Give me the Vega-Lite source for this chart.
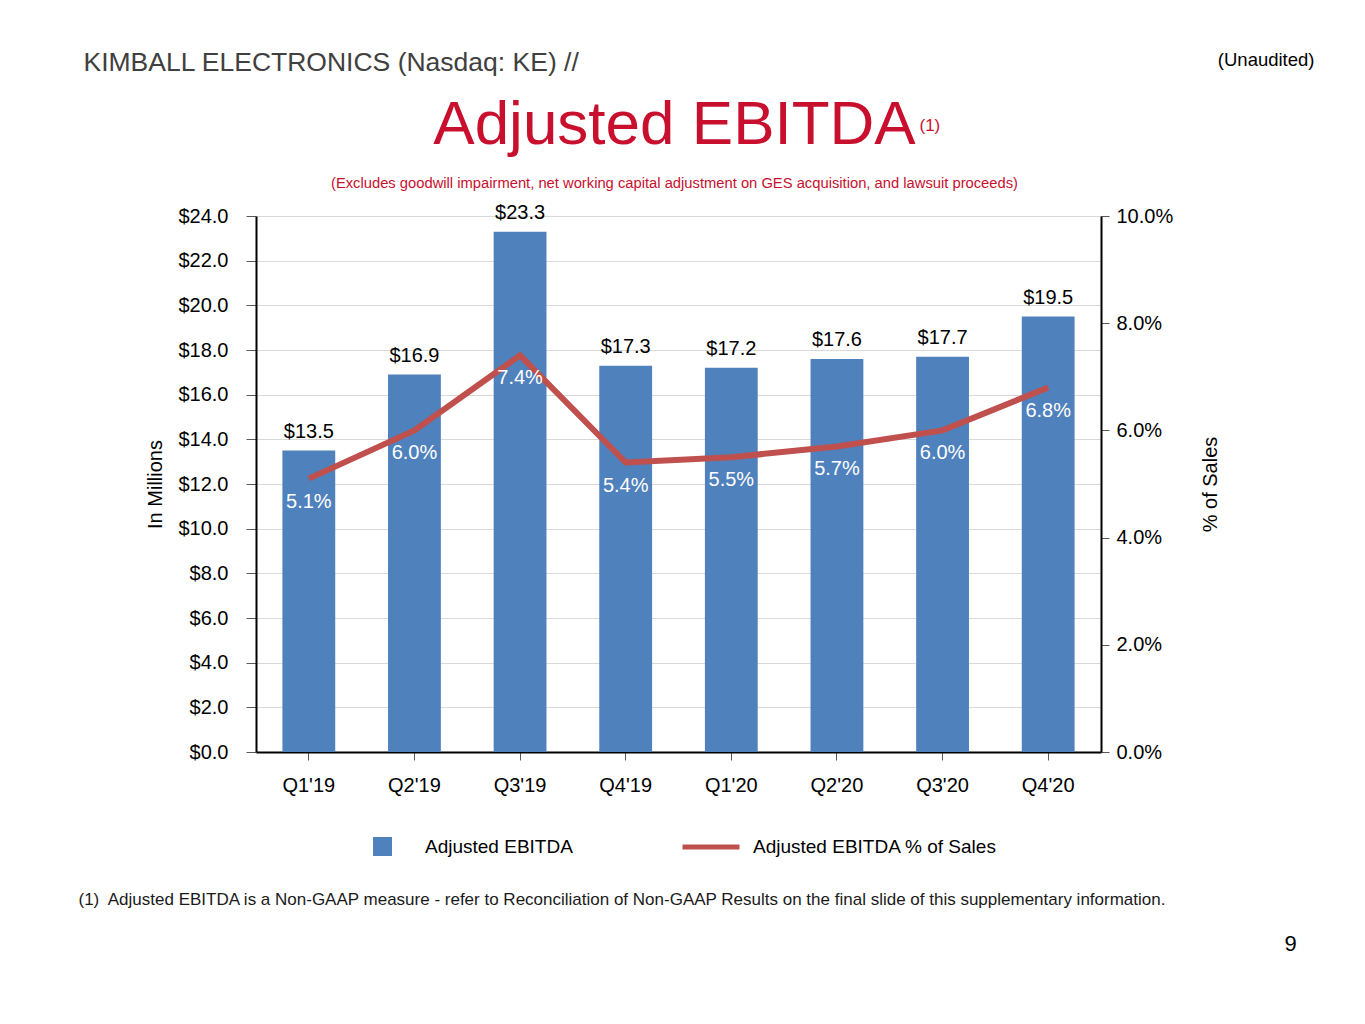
{
  "$schema": "https://vega.github.io/schema/vega-lite/v6.json",
  "width": 845,
  "height": 536,
  "autosize": {"type": "none"},
  "padding": {"left": 256, "top": 216, "right": 264, "bottom": 272},
  "background": "white",
  "data": {
    "values": [
      {"quarter": "Q1'19", "ebitda": 13.5, "pct": 0.051},
      {"quarter": "Q2'19", "ebitda": 16.9, "pct": 0.060},
      {"quarter": "Q3'19", "ebitda": 23.3, "pct": 0.074},
      {"quarter": "Q4'19", "ebitda": 17.3, "pct": 0.054},
      {"quarter": "Q1'20", "ebitda": 17.2, "pct": 0.055},
      {"quarter": "Q2'20", "ebitda": 17.6, "pct": 0.057},
      {"quarter": "Q3'20", "ebitda": 17.7, "pct": 0.060},
      {"quarter": "Q4'20", "ebitda": 19.5, "pct": 0.068}
    ]
  },
  "title": {
    "text": "Adjusted EBITDA",
    "subtitle": "(Excludes goodwill impairment, net working capital adjustment on GES acquisition, and lawsuit proceeds)",
    "anchor": "middle",
    "frame": "group",
    "dx": -4,
    "offset": -143,
    "font": "Liberation Sans",
    "fontSize": 62,
    "fontWeight": "normal",
    "color": "#C8102E",
    "subtitleFont": "Liberation Sans",
    "subtitleFontSize": 14.75,
    "subtitleColor": "#C8102E",
    "subtitlePadding": 19
  },
  "config": {
    "font": "Liberation Sans",
    "view": {"stroke": null},
    "axis": {
      "labelFont": "Liberation Sans",
      "labelFontSize": 20,
      "labelColor": "#000000",
      "titleFont": "Liberation Sans",
      "titleFontWeight": "normal",
      "titleFontSize": 20,
      "titleColor": "#000000",
      "domainColor": "#000000",
      "domainWidth": 2,
      "tickColor": "#595959",
      "tickSize": 8
    },
    "legend": {
      "labelFont": "Liberation Sans",
      "labelFontSize": 19,
      "labelColor": "#000000",
      "labelLimit": 0,
      "padding": 0
    }
  },
  "resolve": {
    "scale": {"y": "independent"},
    "axis": {"x": "independent", "y": "independent"}
  },
  "layer": [
    {
      "mark": {"type": "bar", "width": {"band": 0.5}, "color": "#4F81BD"},
      "encoding": {
        "x": {
          "field": "quarter",
          "type": "nominal",
          "sort": null,
          "scale": {"paddingInner": 0, "paddingOuter": 0},
          "axis": {
            "orient": "bottom",
            "labelAngle": 0,
            "labelPadding": 15,
            "title": "(1)\u00a0 Adjusted EBITDA is a Non-GAAP measure - refer to Reconciliation of Non-GAAP Results on the final slide of this supplementary information.",
            "titleFontSize": 17,
            "titleColor": "#1a1a1a",
            "titleAnchor": "start",
            "titleAlign": "left",
            "titleBaseline": "alphabetic",
            "titleX": -178,
            "titleY": 152
          }
        },
        "y": {
          "field": "ebitda",
          "type": "quantitative",
          "scale": {"domain": [0, 24], "nice": false},
          "axis": {
            "orient": "left",
            "values": [0, 2, 4, 6, 8, 10, 12, 14, 16, 18, 20, 22, 24],
            "format": "$.1f",
            "grid": true,
            "gridColor": "#d9d9d9",
            "tickSize": 10,
            "labelPadding": 18,
            "title": "In Millions",
            "titleAngle": -90,
            "titleAlign": "center",
            "titleBaseline": "middle",
            "titleX": -101,
            "titleY": 268
          }
        },
        "color": {
          "datum": "Adjusted EBITDA",
          "type": "nominal",
          "scale": {"range": ["#4F81BD"]},
          "legend": {
            "orient": "none",
            "legendX": 117,
            "legendY": 621,
            "title": null,
            "symbolType": "square",
            "symbolSize": 361,
            "symbolStrokeWidth": 0,
            "symbolOpacity": 1,
            "labelOffset": 33
          }
        }
      }
    },
    {
      "mark": {"type": "text", "baseline": "alphabetic", "dy": -13, "fontSize": 20, "color": "#000000"},
      "encoding": {
        "x": {
          "field": "quarter",
          "type": "nominal",
          "sort": null,
          "axis": {
            "orient": "top",
            "labels": false,
            "ticks": false,
            "domain": false,
            "grid": false,
            "title": "KIMBALL ELECTRONICS (Nasdaq: KE) //",
            "titleFontSize": 26.5,
            "titleColor": "#404040",
            "titleAnchor": "start",
            "titleAlign": "left",
            "titleBaseline": "alphabetic",
            "titleX": -173,
            "titleY": -146
          }
        },
        "y": {
          "field": "ebitda",
          "type": "quantitative",
          "scale": {"domain": [0, 24], "nice": false},
          "axis": {
            "orient": "right",
            "labels": false,
            "ticks": false,
            "domain": false,
            "grid": false,
            "title": "9",
            "titleFontSize": 22,
            "titleAngle": 0,
            "titleAlign": "center",
            "titleBaseline": "alphabetic",
            "titleX": 189,
            "titleY": 734
          }
        },
        "text": {"field": "ebitda", "type": "quantitative", "format": "$.1f"}
      }
    },
    {
      "mark": {"type": "line", "color": "#C0504D", "strokeWidth": 6},
      "encoding": {
        "x": {
          "field": "quarter",
          "type": "nominal",
          "sort": null,
          "axis": {
            "orient": "top",
            "labels": false,
            "ticks": false,
            "domain": false,
            "grid": false,
            "title": "(Unaudited)",
            "titleFontSize": 18.5,
            "titleAnchor": "start",
            "titleAlign": "right",
            "titleBaseline": "alphabetic",
            "titleX": 1058,
            "titleY": -151
          }
        },
        "y": {
          "field": "pct",
          "type": "quantitative",
          "scale": {"domain": [0, 0.1], "nice": false},
          "axis": {
            "orient": "right",
            "values": [0, 0.02, 0.04, 0.06, 0.08, 0.1],
            "format": ".1%",
            "grid": false,
            "tickSize": 8,
            "labelPadding": 7,
            "title": "% of Sales",
            "titleAngle": -90,
            "titleAlign": "center",
            "titleBaseline": "middle",
            "titleX": 109,
            "titleY": 268
          }
        },
        "stroke": {
          "datum": "Adjusted EBITDA % of Sales",
          "type": "nominal",
          "scale": {"range": ["#C0504D"]},
          "legend": {
            "orient": "none",
            "legendX": 424,
            "legendY": 600,
            "title": null,
            "symbolType": "stroke",
            "symbolSize": 3249,
            "symbolStrokeWidth": 5,
            "labelOffset": 11
          }
        }
      }
    },
    {
      "mark": {"type": "text", "baseline": "alphabetic", "dy": 29, "fontSize": 20, "color": "#ffffff"},
      "encoding": {
        "x": {
          "field": "quarter",
          "type": "nominal",
          "sort": null,
          "axis": {
            "orient": "top",
            "labels": false,
            "ticks": false,
            "domain": false,
            "grid": false,
            "title": "(1)",
            "titleFontSize": 17,
            "titleColor": "#C8102E",
            "titleAnchor": "start",
            "titleAlign": "left",
            "titleBaseline": "alphabetic",
            "titleX": 663,
            "titleY": -86
          }
        },
        "y": {
          "field": "pct",
          "type": "quantitative",
          "scale": {"domain": [0, 0.1], "nice": false},
          "axis": null
        },
        "text": {"field": "pct", "type": "quantitative", "format": ".1%"}
      }
    }
  ]
}
